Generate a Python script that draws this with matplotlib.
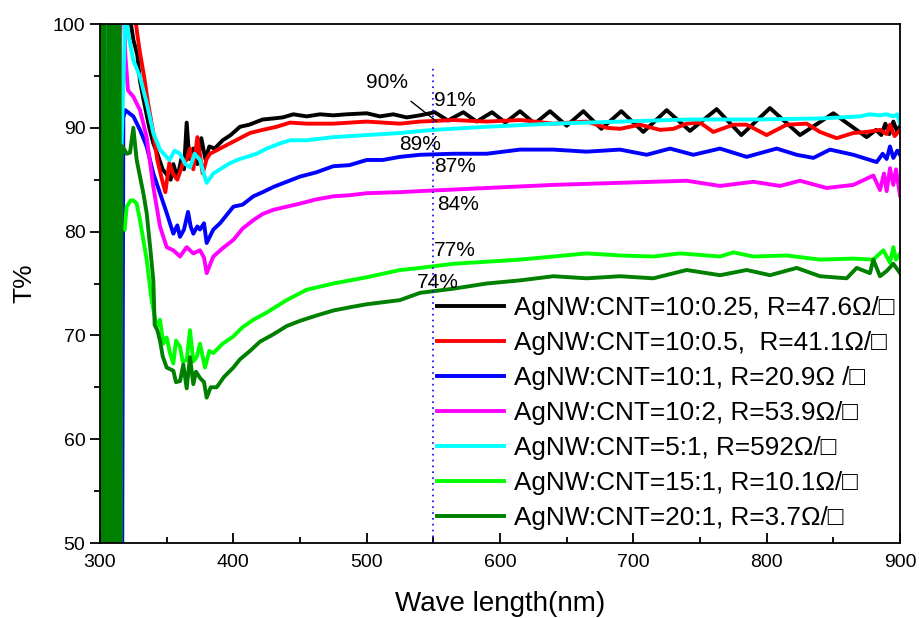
import matplotlib
matplotlib.use("Agg")
import matplotlib.pyplot as plt
from matplotlib.ticker import MultipleLocator

plt.rcParams['font.family'] = ['Liberation Sans', 'DejaVu Sans']

# --- data (wavelength nm, transmittance %) ---
black_x = [322, 325, 328, 330, 333, 337, 340, 343, 347, 350, 353, 355, 358, 361, 363, 365, 367,
           370, 373, 376, 379, 382, 386, 392, 398, 405, 412, 422, 430, 437, 445, 455, 465, 475,
           485, 500, 510, 520, 530, 540, 551, 561, 572.5, 582.5, 594, 604, 615, 626, 637.5, 650,
           662.5, 676, 691, 707.5, 725, 742.5, 762.5, 781, 802.5, 825, 850, 875, 882, 886, 889,
           892, 895, 898, 900]
black_y = [101, 98.5, 97, 94.5, 92.5, 90, 88.5, 87.5, 86, 85.5, 85.0, 86.5, 85.2, 87, 86, 90.5, 87,
           88, 86.5, 89, 87, 88.2, 88.0, 88.8, 89.3, 90.1, 90.3, 90.8, 90.9, 91.0, 91.3, 91.1, 91.3,
           91.2, 91.3, 91.4, 91.1, 91.3, 91.0, 91.2, 91.5, 90.7, 91.5, 90.6, 91.5, 90.5, 91.6, 90.4,
           91.6, 90.2, 91.6, 89.9, 91.6, 89.6, 91.7, 89.7, 91.8, 89.3, 91.9, 89.3, 91.4, 89.1, 89.8,
           89.3, 90.4, 89.4, 90.6, 89.6, 90.2]

red_x = [326, 328, 330, 333, 336, 340, 343, 346.5, 349, 352, 355, 358, 362, 365, 367.5, 370, 373,
         377, 380, 382.5, 390, 397.5, 405, 412.5, 422, 432.5, 442.5, 455, 475, 500, 525, 540, 565,
         590, 615, 640, 665, 680, 690, 705, 720, 730, 740, 750, 760, 775, 785, 800, 815, 830, 840,
         852.5, 865, 875, 885, 890, 892.5, 896, 900]
red_y = [101, 99, 97.2, 95, 92.4, 89.5, 86.9, 85.0, 83.8, 86.6, 85.5, 85, 86.5, 86.9, 88, 86, 89.1,
         85.6, 87, 87.5, 88, 88.5, 89, 89.5, 89.8, 90.1, 90.5, 90.4, 90.4, 90.6, 90.4, 90.6, 90.75,
         90.6, 90.75, 90.4, 90.6, 90.0, 89.9, 90.3, 89.8, 89.9, 90.4, 90.5, 89.6, 90.3, 90.3, 89.3,
         90.3, 90.4, 89.6, 89.0, 89.5, 89.6, 89.8, 89.4, 90.3, 89.2, 89.8]

blue_x = [314, 316.5, 317.5, 319, 322, 325, 330, 335, 340, 345, 350, 355, 358, 360, 363, 366, 368,
          370, 373, 375, 378, 380, 385, 390, 400, 407, 415, 422, 430, 440, 450, 462, 475, 487, 500,
          512, 525, 540, 565, 590, 615, 640, 665, 690, 710, 727.5, 745, 765, 785, 807.5, 822.5,
          835, 847.5, 865, 882.5, 887, 890, 892.5, 895, 898, 900]
blue_y = [110, 40, 91, 91.7, 91.4, 91.1, 89.8, 88.2, 85.6, 83.7, 81.8, 79.8, 80.6, 79.5, 80.2, 81.9,
          80.5, 79.8, 80.5, 80.2, 80.8, 78.9, 80.2, 80.8, 82.4, 82.6, 83.4, 83.8, 84.3, 84.8, 85.3,
          85.7, 86.3, 86.4, 86.9, 86.9, 87.2, 87.4, 87.5, 87.5, 87.9, 87.9, 87.7, 87.9, 87.4, 88.0,
          87.4, 88.0, 87.2, 88.0, 87.4, 87.1, 87.9, 87.4, 86.7, 87.5, 87.0, 88.2, 87.1, 87.8, 87.4]

magenta_x = [306, 307.5, 309, 316, 319, 321, 325, 330, 335, 340, 345, 350, 355, 360, 365, 370, 375,
             378, 380, 385, 392, 400, 407, 415, 422, 430, 440, 450, 462, 475, 487, 500, 525, 540,
             590, 640, 690, 740, 765, 790, 810, 825, 845, 865, 880, 885, 888, 890, 892.5, 895,
             897, 900]
magenta_y = [40, 110, 40, 110, 97, 93.6, 93.0, 91.7, 89.1, 84.3, 80.5, 78.5, 78.2, 77.6, 78.5, 77.9,
             78.2, 77.5, 76.0, 77.6, 78.4, 79.2, 80.3, 81.1, 81.7, 82.1, 82.4, 82.7, 83.1, 83.4, 83.5,
             83.7, 83.8, 83.9, 84.2, 84.5, 84.7, 84.9, 84.4, 84.8, 84.4, 84.9, 84.2, 84.5, 85.4, 84.0,
             85.6, 83.9, 86.1, 84.5, 86.0, 83.5]

cyan_x = [303.5, 304.5, 305.5, 319, 322, 325, 330, 335, 340, 345, 352, 356, 360, 364, 367.5, 371,
          375, 378, 380, 385, 390, 397.5, 405, 417.5, 425, 435, 442.5, 455, 475, 500, 525, 550, 590,
          640, 690, 740, 790, 840, 870, 877, 885, 890, 895, 898, 900]
cyan_y = [40, 110, 40, 101, 98.5, 96.5, 94.9, 92.4, 89.5, 87.9, 86.9, 87.8, 87.5, 86.5, 86.2, 87.5,
          86.9, 85.5, 84.7, 85.6, 86.0, 86.6, 87.0, 87.5, 88.0, 88.5, 88.8, 88.8, 89.1, 89.3, 89.5,
          89.8, 90.1, 90.4, 90.6, 90.8, 90.8, 90.9, 91.1, 91.3, 91.2, 91.3, 91.1, 91.3, 90.4]

green_x = [318.5, 320, 323, 325, 327.5, 330, 335, 338.75, 342.5, 345, 347.5, 350, 352.5, 355,
           357, 360, 362, 365, 367.5, 370, 372.5, 375, 378.75, 382, 385, 392, 400, 407, 415, 425,
           440, 455, 475, 500, 525, 540, 565, 590, 615, 640, 665, 690, 715, 735, 765, 775, 790,
           815, 840, 865, 880, 887.5, 892.5, 895, 897, 900]
green_y = [80.2, 82.4, 83.0, 83.0, 82.7, 81.1, 77.3, 73.4, 70.8, 71.5, 69.2, 69.8, 68.3, 67.3,
           69.5, 68.9, 67.5, 67.6, 70.5, 67.5, 67.9, 69.2, 66.9, 68.5, 68.3, 69.2, 69.9, 70.8, 71.5,
           72.2, 73.4, 74.4, 75.0, 75.6, 76.3, 76.5, 76.9, 77.1, 77.3, 77.6, 77.9, 77.7, 77.6, 77.9,
           77.6, 78.0, 77.6, 77.7, 77.3, 77.4, 77.3, 78.2, 77.0, 78.5, 77.3, 77.9]

dkgreen_x = [300, 300.3, 301.5, 302, 303, 304, 304.5, 305, 305.5, 306.5, 307.2, 308.5, 309.5, 310.5,
             311.5, 312.5, 313.5, 314.5, 315.5, 316.2, 317, 320, 322.5, 325, 327.5, 330, 332.5, 335,
             338, 340, 341, 343, 345, 347, 350, 355, 357, 360, 362.5, 365, 367.5, 370, 372, 375,
             378, 380, 383, 387.5, 393, 400, 405, 412.5, 420, 430, 440, 450, 462, 475, 487, 500,
             525, 540, 565, 590, 615, 640, 665, 690, 715, 740, 765, 785, 802.5, 822.5, 840, 860,
             867.5, 877.5, 880, 885, 890, 895, 900]
dkgreen_y = [40, 110, 110, 40, 110, 40, 87.5, 87.5, 40, 110, 40, 110, 40, 110, 40, 110, 40, 110, 40,
             88.2, 88.2, 87.5, 87.6, 90.0, 86.9, 85.3, 83.7, 81.8, 78, 75.3, 71, 70.5, 69.5, 68.0,
             66.9, 66.6, 65.5, 65.6, 67.2, 64.9, 67.9, 65.3, 66.5, 65.9, 65.5, 64.0, 65.0, 65.0,
             66.0, 66.9, 67.7, 68.5, 69.4, 70.1, 70.9, 71.4, 71.9, 72.4, 72.7, 73.0, 73.4, 74.1,
             74.5, 75.0, 75.3, 75.7, 75.5, 75.7, 75.5, 76.3, 75.8, 76.3, 75.8, 76.5, 75.7, 75.5,
             76.5, 76.0, 77.3, 75.7, 76.2, 76.9, 76.0]

labels = ["AgNW:CNT=10:0.25, R=47.6\u03a9/\u25a1",
          "AgNW:CNT=10:0.5,  R=41.1\u03a9/\u25a1",
          "AgNW:CNT=10:1, R=20.9\u03a9 /\u25a1",
          "AgNW:CNT=10:2, R=53.9\u03a9/\u25a1",
          "AgNW:CNT=5:1, R=592\u03a9/\u25a1",
          "AgNW:CNT=15:1, R=10.1\u03a9/\u25a1",
          "AgNW:CNT=20:1, R=3.7\u03a9/\u25a1"]
colors = ['#000000', '#ff0000', '#0000ff', '#ff00ff', '#00ffff', '#00ff00', '#008000']

# annotations: (text, x, y)
notes = [("91%", 566, 92.6), ("89%", 540, 88.4), ("87%", 566, 86.3),
         ("84%", 568.5, 82.6), ("77%", 566, 78.2), ("74%", 553.5, 75.1)]

fig = plt.figure(figsize=(9.19, 6.18), dpi=100)
ax = fig.add_axes([100 / 919, 1 - 543 / 618, 800 / 919, 519 / 618])

series = [(black_x, black_y), (red_x, red_y), (blue_x, blue_y), (magenta_x, magenta_y),
          (cyan_x, cyan_y), (green_x, green_y), (dkgreen_x, dkgreen_y)]
for (xs, ys), c, lab in zip(series, colors, labels):
    ax.plot(xs, ys, color=c, lw=2.8, label=lab, solid_joinstyle='round')

ax.plot([550, 550], [50, 96], color='blue', lw=1.2, linestyle=(0, (1, 2.5)))

for txt, x, y in notes:
    ax.text(x, y, txt, fontsize=15, ha='center', va='center')
ax.annotate("90%", xy=(552.5, 90.6), xytext=(515, 94.4), fontsize=15,
            ha='center', va='center',
            arrowprops=dict(arrowstyle='-', color='black', lw=1,
                            shrinkA=8, shrinkB=0))

ax.set_xlim(300, 900)
ax.set_ylim(50, 100)
ax.xaxis.set_major_locator(MultipleLocator(100))
ax.xaxis.set_minor_locator(MultipleLocator(50))
ax.yaxis.set_major_locator(MultipleLocator(10))
ax.yaxis.set_minor_locator(MultipleLocator(5))
ax.tick_params(axis='x', which='both', direction='in', labelsize=14, pad=8)
ax.tick_params(axis='x', which='major', length=7, width=1.3)
ax.tick_params(axis='x', which='minor', length=4, width=1.3)
ax.tick_params(axis='y', which='both', direction='out', labelsize=14)
ax.tick_params(axis='y', which='major', length=7, width=1.3)
ax.tick_params(axis='y', which='minor', length=4, width=1.3)
for s in ax.spines.values():
    s.set_linewidth(1.3)

ax.set_xlabel("Wave length(nm)", fontsize=20, labelpad=14)
ax.set_ylabel("T%", fontsize=19, labelpad=12)

leg = ax.legend(loc='upper left', bbox_to_anchor=(437 / 919, 1 - 296 / 618),
                bbox_transform=fig.transFigure, frameon=False, fontsize=18.8,
                handlelength=2.55, handletextpad=0.4, labelspacing=0.42,
                borderpad=0, borderaxespad=0)

fig.savefig("out.png", dpi=100)
